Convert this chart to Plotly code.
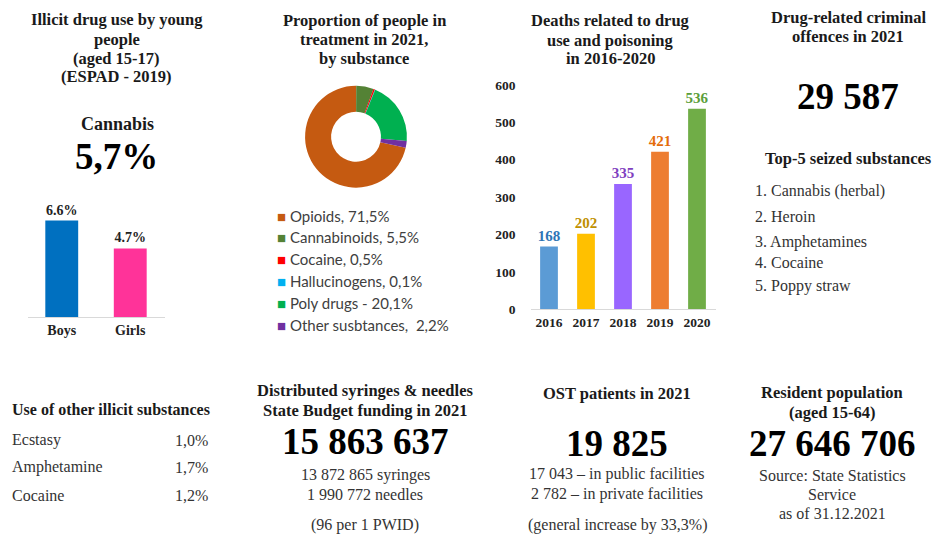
import plotly.graph_objects as go

W, H = 935, 534
FIG_H = 548          # page is photographed slightly squeezed; compensate
Y_SHIFT = 7
SERIF = "Liberation Serif"

# ---------------- data ----------------
youth_title = ["Illicit drug use by young", "people", "(aged 15-17)", "(ESPAD - 2019)"]
youth_substance = "Cannabis"
youth_total = "5,7%"
youth_categories = ["Boys", "Girls"]
youth_values = [6.6, 4.7]
youth_colors = ["#0070C0", "#FF3399"]

treat_title = ["Proportion of people in", "treatment in 2021,", "by substance"]
treat_labels = ["Opioids", "Cannabinoids", "Cocaine", "Hallucinogens", "Poly drugs", "Other susbtances"]
treat_values = [71.5, 5.5, 0.5, 0.1, 20.1, 2.2]
treat_legend = ["Opioids, 71,5%", "Cannabinoids, 5,5%", "Cocaine, 0,5%",
                "Hallucinogens, 0,1%", "Poly drugs - 20,1%", "Other susbtances,  2,2%"]
treat_colors = ["#C55A11", "#548235", "#FF0000", "#00B0F0", "#00B050", "#7030A0"]

death_title = ["Deaths related to drug", "use and poisoning", "in 2016-2020"]
death_years = ["2016", "2017", "2018", "2019", "2020"]
death_values = [168, 202, 335, 421, 536]
death_ticks = [0, 100, 200, 300, 400, 500, 600]
death_colors = ["#5B9BD5", "#FFC000", "#9966FF", "#ED7D31", "#70AD47"]
death_label_colors = ["#2E75B6", "#BF9000", "#7F3FBF", "#E46C0A", "#5B9E3A"]

offence_title = ["Drug-related criminal", "offences in 2021"]
offence_total = "29 587"
seized_title = "Top-5 seized substances"
seized_top5 = ["1. Cannabis (herbal)", "2. Heroin", "3. Amphetamines", "4. Cocaine", "5. Poppy straw"]

other_title = "Use of other illicit substances"
other_substances = ["Ecstasy", "Amphetamine", "Cocaine"]
other_values = ["1,0%", "1,7%", "1,2%"]

syr_title = ["Distributed syringes & needles", "State Budget funding in 2021"]
syr_total = "15 863 637"
syr_details = ["13 872 865 syringes", "1 990 772 needles", "(96 per 1 PWID)"]

ost_title = "OST patients in 2021"
ost_total = "19 825"
ost_details = ["17 043 \u2013 in public facilities", "2 782 \u2013 in private facilities",
               "(general increase by 33,3%)"]

pop_title = ["Resident population", "(aged 15-64)"]
pop_total = "27 646 706"
pop_details = ["Source: State Statistics", "Service", "as of 31.12.2021"]


# ---------------- helpers ----------------
def px_x(x):
    return x / W


def px_y(y):
    return 1 - (y - Y_SHIFT) / H


annotations = []


def txt(x, y, text, size=16, bold=False, anchor="center", color="#1a1a1a", family=SERIF):
    annotations.append(dict(
        x=px_x(x), y=px_y(y), xref="paper", yref="paper",
        text=f"<b>{text}</b>" if bold else text,
        showarrow=False, xanchor=anchor, yanchor="middle",
        font=dict(family=family, size=size, color=color)))


fig = go.Figure()

# youth bars
fig.add_trace(go.Bar(
    x=youth_categories, y=youth_values, marker=dict(color=youth_colors, line_width=0),
    texttemplate="<b>%{y:.1f}%</b>", textposition="outside", cliponaxis=False,
    constraintext="none",
    textfont=dict(family=SERIF, size=14, color="#222222"),
    xaxis="x", yaxis="y", showlegend=False, hoverinfo="skip"))

# deaths bars
fig.add_trace(go.Bar(
    x=death_years, y=death_values, marker=dict(color=death_colors, line_width=0),
    texttemplate="<b>%{y}</b>", textposition="outside", cliponaxis=False,
    constraintext="none",
    textfont=dict(family=SERIF, size=15, color=death_label_colors),
    xaxis="x2", yaxis="y2", showlegend=False, hoverinfo="skip"))

# donut
fig.add_trace(go.Pie(
    labels=treat_labels, values=treat_values, hole=0.49, sort=False,
    direction="clockwise", rotation=102.6,
    marker=dict(colors=treat_colors, line=dict(width=0)),
    textinfo="none", showlegend=False, hoverinfo="skip",
    domain=dict(x=[px_x(305), px_x(407)], y=[px_y(188), px_y(86)])))

# ---------------- texts ----------------
for line, y in zip(youth_title, [20, 40, 59, 77]):
    txt(117, y, line, size=16.5, bold=True)
txt(118, 124, youth_substance, size=18, bold=True)
txt(117, 157, youth_total, size=37, bold=True, color="#000000")

for line, y in zip(treat_title, [21, 40, 59]):
    txt(364, y, line, size=16.5, bold=True)
for i, (lab, col) in enumerate(zip(treat_legend, treat_colors)):
    y = 216 + i * 21.9
    txt(275, y, f'<span style="color:{col}">\u25A0</span> {lab}', size=15,
        anchor="left", color="#404040", family="Lato")

for line, y in zip(death_title, [21, 41, 59]):
    txt(610, y, line, size=16.5, bold=True)

for line, y in zip(offence_title, [18, 37]):
    txt(848, y, line, size=16.5, bold=True)
txt(848, 97, offence_total, size=37, bold=True, color="#000000")
txt(848, 159, seized_title, size=16.5, bold=True)
for item, y in zip(seized_top5, [191, 217, 242, 263, 287]):
    txt(753, y, item, size=16, anchor="left", color="#333333")

txt(10, 410, other_title, size=16, bold=True, anchor="left")
for name, val, y in zip(other_substances, other_values, [441, 468, 496]):
    txt(10, y, name, size=16, anchor="left", color="#333333")
    txt(173, y, val, size=16, anchor="left", color="#333333")

for line, y in zip(syr_title, [391, 411]):
    txt(365, y, line, size=16.5, bold=True)
txt(365, 442, syr_total, size=37, bold=True, color="#000000")
for line, y in zip(syr_details, [476, 495, 526]):
    txt(365, y, line, size=16, color="#333333")

txt(617, 394, ost_title, size=16.5, bold=True)
txt(617, 444, ost_total, size=37, bold=True, color="#000000")
for line, y in zip(ost_details, [475, 495, 526]):
    txt(617, y, line, size=16, color="#333333")

for line, y in zip(pop_title, [393, 413]):
    txt(832, y, line, size=16.5, bold=True)
txt(832, 444, pop_total, size=37, bold=True, color="#000000")
for line, y in zip(pop_details, [476, 495, 514]):
    txt(832, y, line, size=16, color="#333333")

# ---------------- layout ----------------
fig.update_layout(
    width=W, height=FIG_H, autosize=False,
    margin=dict(l=0, r=0, t=0, b=0),
    paper_bgcolor="white", plot_bgcolor="white",
    bargap=0.52,
    annotations=annotations,
    xaxis=dict(domain=[px_x(27.5), px_x(164.5)], showgrid=False, zeroline=False,
               showline=True, linecolor="#D9D9D9", linewidth=1, ticks="",
               tickmode="array", tickvals=youth_categories,
               ticktext=[f"<b>{c}</b>" for c in youth_categories],
               tickfont=dict(family=SERIF, size=14, color="#222222"), fixedrange=True),
    yaxis=dict(domain=[px_y(318), px_y(318 - 8 * 14.7)], range=[0, 8], visible=False,
               fixedrange=True),
    xaxis2=dict(domain=[px_x(530.5), px_x(715.5)], anchor="y2", showgrid=False,
                zeroline=False, showline=True, linecolor="#D9D9D9", linewidth=1, ticks="",
                tickmode="array", tickvals=death_years,
                ticktext=[f"<b>{c}</b>" for c in death_years],
                tickfont=dict(family=SERIF, size=13.5, color="#222222"), fixedrange=True),
    yaxis2=dict(domain=[px_y(310), px_y(85)], range=[0, 600], anchor="x2",
                showgrid=False, zeroline=False, showline=False, ticks="",
                tickmode="array", tickvals=death_ticks,
                ticktext=[f"<b>{v}</b>" for v in death_ticks],
                ticklabelstandoff=14,
                tickfont=dict(family=SERIF, size=13.5, color="#222222"), fixedrange=True),
)

fig.write_html(
    "out.html",
    config={"displayModeBar": False},
    post_script=(
        "document.documentElement.style.overflow='hidden';"
        "document.body.style.margin='0';document.body.style.overflow='hidden';"
    ),
)
